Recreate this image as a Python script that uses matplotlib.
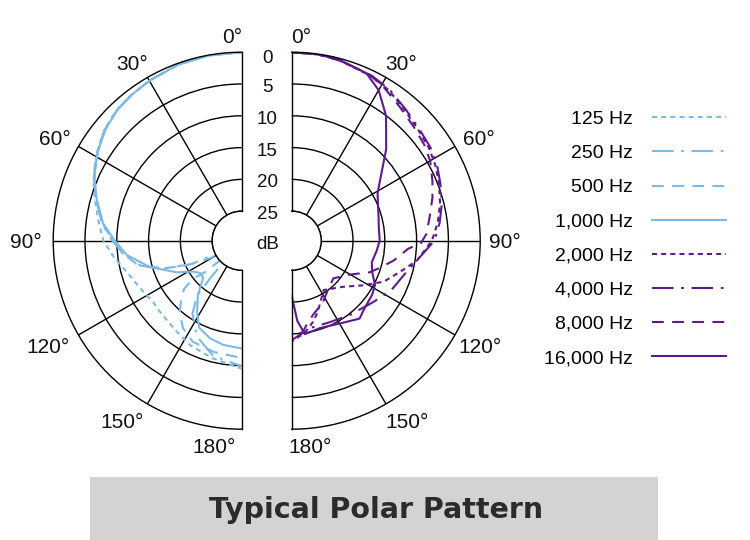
import numpy as np
import matplotlib.pyplot as plt
from matplotlib.patches import Rectangle
from matplotlib.transforms import offset_copy

plt.rcParams['font.family'] = ['Liberation Sans', 'DejaVu Sans']
plt.rcParams['lines.scale_dashes'] = False

# ---- data: off-axis angle (deg) and attenuation (dB) ----
labels = ['125 Hz', '250 Hz', '500 Hz', '1,000 Hz',
          '2,000 Hz', '4,000 Hz', '8,000 Hz', '16,000 Hz']

# left half (low frequencies)
ang_125 = [0, 10, 20, 30, 37, 44, 51, 58, 64, 68, 75, 83, 90, 98, 105, 115, 125, 131, 144, 154, 166, 180]
db_125 = [0, 0.05, 0.2, 0.6, 0.9, 1.2, 1.9, 2.9, 3.9, 4.5, 5.8, 7.0, 7.9, 9.5, 10.9, 12.0, 12.7, 12.6, 12.1, 11.3, 10.6, 9.5]

ang_250 = [0, 10, 20, 30, 37, 44, 51, 58, 64, 68, 74, 83, 90, 97, 104, 110, 115, 119, 139, 140, 141, 146, 155, 166, 180]
db_250 = [0, 0.05, 0.2, 0.6, 0.9, 1.2, 1.9, 2.9, 3.9, 4.6, 5.8, 7.5, 9.3, 11.0, 13.3, 17.0, 21.0, 27.0, 27.0, 22.0, 18.5, 15.8, 13.0, 11.0, 9.9]

ang_500 = [0, 10, 20, 30, 37, 44, 51, 58, 64, 68, 74, 83, 90, 97, 103, 109, 114, 119, 123, 135, 131, 128, 130, 134, 139, 146, 154, 166, 180]
db_500 = [0, 0.05, 0.2, 0.6, 0.9, 1.3, 2.0, 3.0, 4.0, 4.7, 5.9, 7.6, 9.4, 11.2, 12.8, 16.1, 20.0, 24.0, 27.0, 27.0, 22.3, 19.8, 17.8, 16.4, 14.8, 13.1, 12.0, 11.6, 11.2]

ang_1000 = [0, 10, 20, 30, 37, 44, 51, 58, 64, 68, 74, 83, 90, 97, 106, 116, 122, 128, 134, 141, 148, 154, 162, 170, 180]
db_1000 = [0, 0.05, 0.2, 0.6, 0.9, 1.3, 2.0, 3.0, 4.0, 4.7, 5.9, 7.7, 9.7, 11.4, 14.6, 18.3, 20.5, 21.4, 21.2, 18.7, 16.4, 14.4, 13.5, 13.0, 12.7]

# right half (high frequencies)
ang_2000 = [0, 8, 15, 26, 33, 41, 49, 56, 62, 69, 76, 83, 90, 99, 106, 114, 122, 132, 147, 160, 165, 172, 180]
db_2000 = [0, 0.05, 0.3, 0.9, 1.5, 2.5, 3.2, 3.6, 4.1, 4.8, 5.6, 6.5, 7.6, 9.7, 11.9, 13.8, 16.4, 18.8, 20.4, 17.7, 16.5, 15.0, 13.8]

ang_4000 = [0, 8, 15, 26, 33, 41, 49, 56, 62, 69, 76, 83, 90, 96, 105, 117, 127, 142, 155, 168, 180]
db_4000 = [0, 0.05, 0.3, 0.8, 1.35, 2.3, 3.0, 3.35, 3.8, 4.6, 5.3, 6.2, 7.2, 9.0, 10.9, 12.2, 13.6, 14.8, 15.5, 15.6, 14.0]

ang_8000 = [0, 8, 15, 25, 31, 39, 47, 54, 60, 67, 73, 80, 87, 91, 94, 101, 107, 112, 120, 132, 144, 153, 164, 170, 173, 180]
db_8000 = [0, 0.05, 0.3, 0.8, 1.5, 2.6, 3.4, 3.9, 4.5, 5.6, 6.5, 7.6, 8.4, 9.3, 11.3, 13.3, 15.1, 16.4, 19.0, 20.8, 20.0, 18.8, 17.5, 16.2, 15.2, 14.5]

ang_16000 = [0, 8, 15, 24, 30, 37, 41, 46, 54, 61, 68, 75, 82, 90, 97, 105, 111, 118, 124, 133, 139, 150, 162, 172, 176, 180]
db_16000 = [0, 0.05, 0.25, 0.8, 2.3, 5.0, 7.0, 9.0, 12.3, 14.2, 15.0, 15.5, 15.8, 15.8, 16.2, 16.6, 16.1, 14.8, 14.4, 14.0, 13.4, 14.6, 15.2, 14.8, 17.0, 21.0]

ring_db = [0, 5, 10, 15, 20, 25]
spoke_deg = [30, 60, 90, 120, 150]

# ---- layout (pixels, 100 dpi) ----
W, H = 750, 540
R_OUT = 188.5      # radius of the 0 dB ring
HOLE = 4.64        # centre hole radius, in dB units
CY = 240.7         # centre height measured from the top
CX_L, CX_R = 241.7, 291.7

BLUE = '#7dbae3'
PURPLE = '#5e1a8e'
DOT = (0, (3.6, 3.0))
DASHDOT = (0, (15.5, 5.5, 2.0, 5.5))
DASH = (0, (8.5, 6.0))

fig = plt.figure(figsize=(W / 100, H / 100), dpi=100)


def half_polar(cx, direction):
    side = 2 * R_OUT
    # matplotlib centres the half wedge inside a square box
    frac = 0.75 if direction == 1 else 0.25
    x0 = cx - frac * side
    y0 = (H - CY) - R_OUT
    ax = fig.add_axes([x0 / W, y0 / H, side / W, side / H], projection='polar')
    ax.set_theta_zero_location('N')
    ax.set_theta_direction(direction)
    ax.set_thetamin(0)
    ax.set_thetamax(180)
    ax.set_rorigin(-HOLE)
    ax.set_facecolor('none')
    ax.set_rgrids([25 - d for d in ring_db[1:]], labels=[''] * 5)
    ax.set_thetagrids(spoke_deg, labels=[''] * len(spoke_deg))
    ax.grid(True, color='black', lw=1.0)
    ax.tick_params(length=0)
    for sp in ax.spines.values():
        sp.set_color('black')
        sp.set_linewidth(1.0)
    return ax


def to_r(px):
    return px / R_OUT * (25 + HOLE) - HOLE


ax_l = half_polar(CX_L, 1)
ax_r = half_polar(CX_R, -1)

left_series = [(ang_125, db_125, DOT), (ang_250, db_250, DASHDOT),
               (ang_500, db_500, DASH), (ang_1000, db_1000, '-')]
right_series = [(ang_2000, db_2000, DOT), (ang_4000, db_4000, DASHDOT),
                (ang_8000, db_8000, DASH), (ang_16000, db_16000, '-')]

handles = []
for ax, series, col in [(ax_l, left_series, BLUE), (ax_r, right_series, PURPLE)]:
    for ang, db, ls in series:
        ln, = ax.plot(np.deg2rad(ang), 25 - np.array(db), color=col, ls=ls, lw=1.5)
        handles.append(ln)
    ax.set_ylim(0, 25)

# angle labels: (text, angle deg, distance px from centre)
left_lab = [('0°', 2.7, 205.4), ('30°', 31.5, 209), ('60°', 61.1, 213.8), ('90°', 90, 216),
            ('120°', 118.4, 220), ('150°', 146.4, 216), ('180°', 172.3, 207)]
right_lab = [('0°', 2.6, 205.4), ('30°', 31.5, 209), ('60°', 61.1, 214), ('90°', 90, 213),
             ('120°', 119.1, 216), ('150°', 147.4, 213.4), ('180°', 174.9, 206)]
for ax, labs in [(ax_l, left_lab), (ax_r, right_lab)]:
    for txt, a, d in labs:
        ax.text(np.deg2rad(a), to_r(d), txt, ha='center', va='center_baseline',
                fontsize=15, color='#111111', clip_on=False)

# dB scale in the gap between the halves
db_trans = offset_copy(ax_l.transData, fig=fig, x=25.5, y=-1.5, units='dots')
for d in ring_db:
    dy = -3 if d == 0 else 0
    ax_l.text(0, 25 - d, str(d), transform=offset_copy(db_trans, fig=fig, x=0, y=dy, units='dots'),
              ha='center', va='center_baseline', fontsize=13.5, color='#111111', clip_on=False)
ax_l.text(0, -HOLE, 'dB', transform=db_trans, ha='center', va='center_baseline',
          fontsize=13.5, color='#111111', clip_on=False)

fig.legend(handles, labels, loc='upper right', bbox_to_anchor=(726 / W, 1 - 110.5 / H),
           frameon=False, markerfirst=False, fontsize=14, handlelength=3.8,
           handletextpad=1.0, labelspacing=0.85, borderpad=0, borderaxespad=0)

# title band
fig.add_artist(Rectangle((90 / W, 0), 568 / W, 63 / H, transform=fig.transFigure,
                         facecolor='#d3d3d3', edgecolor='none'))
fig.text(376.5 / W, 22.5 / H, 'Typical Polar Pattern', ha='center', va='baseline',
         fontsize=20.5, fontweight='bold', family='DejaVu Sans', color='#2b2b2b')

fig.savefig('out.png', dpi=100)
